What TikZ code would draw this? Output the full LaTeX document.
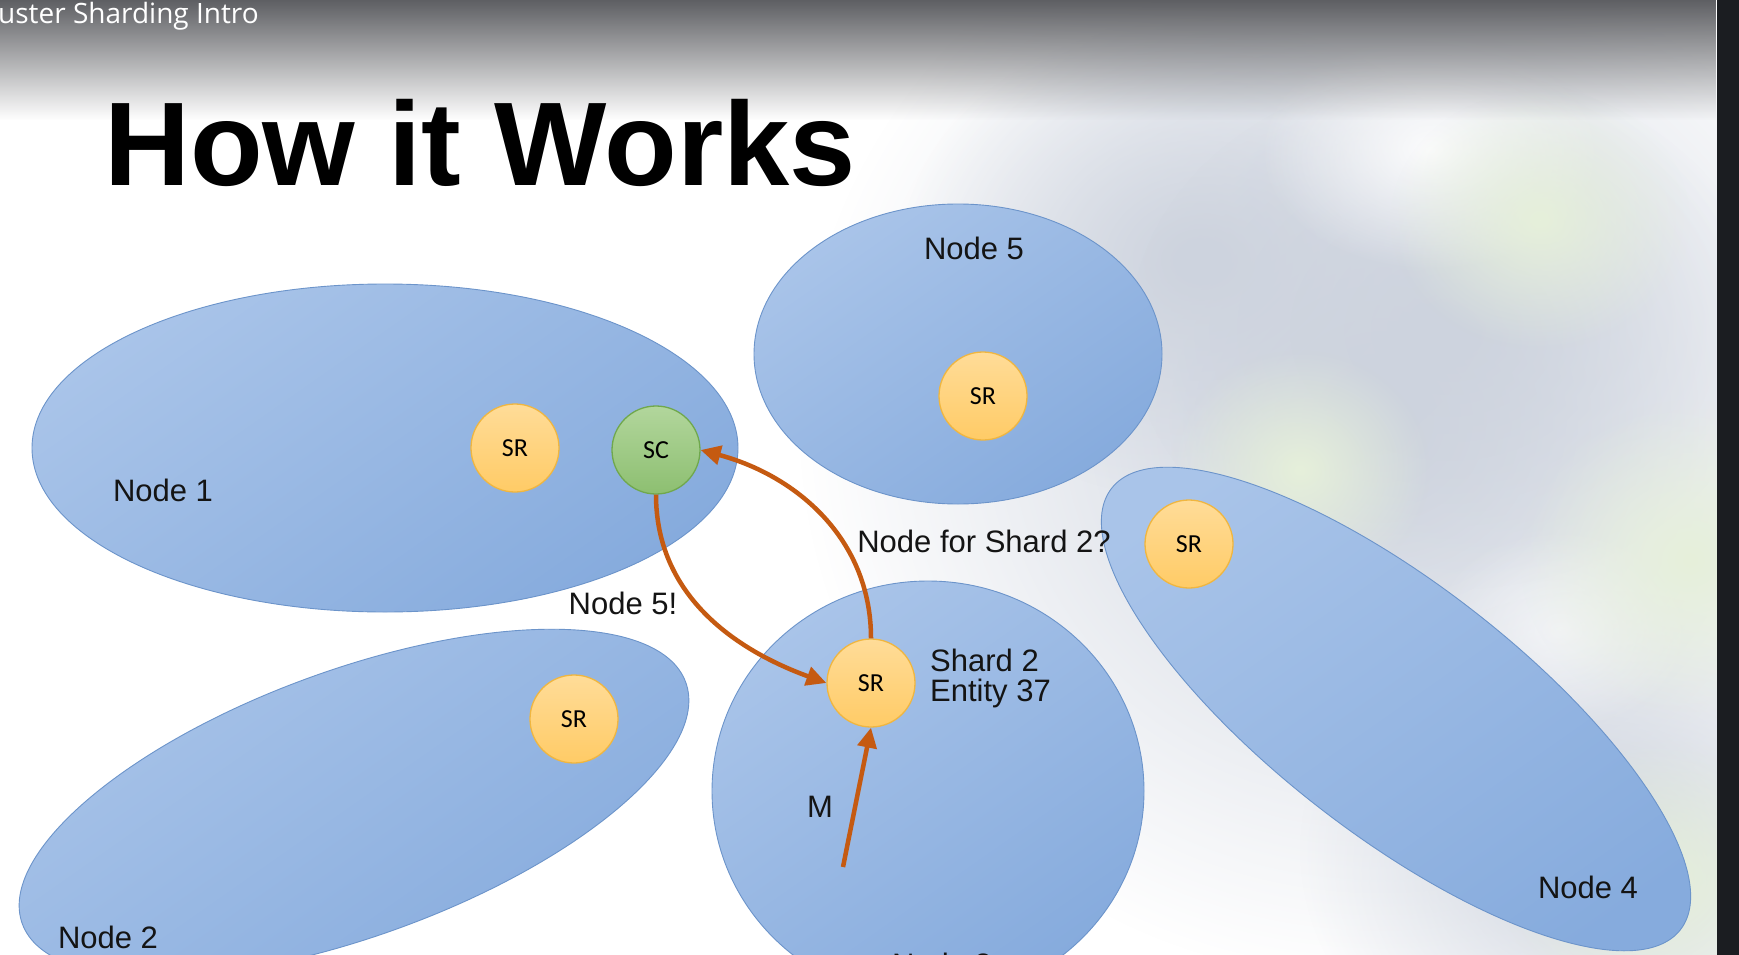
\documentclass[tikz,border=0pt]{standalone}
\usepackage{fontspec}
\usetikzlibrary{arrows.meta,fadings}
\newfontfamily\titlefont{Liberation Sans}
\newfontfamily\labelfont{Liberation Sans}
\newfontfamily\barfont{Open Sans}
\newfontfamily\srfont{Carlito}

\definecolor{ellTop}{HTML}{A9C4E9}
\definecolor{ellBot}{HTML}{86ABDD}
\definecolor{ellLine}{HTML}{6C94CA}
\definecolor{srTop}{HTML}{FFDC98}
\definecolor{srBot}{HTML}{FFCB66}
\definecolor{srLine}{HTML}{F0B640}
\definecolor{scTop}{HTML}{B2D69C}
\definecolor{scBot}{HTML}{8DBF71}
\definecolor{scLine}{HTML}{70A84C}
\definecolor{flowc}{HTML}{C55A11}
\definecolor{barTop}{HTML}{5E5F63}
\definecolor{stripc}{HTML}{1B1D21}
\definecolor{hazeGray}{HTML}{CDD3DE}
\definecolor{hazeGreen}{HTML}{E6F0DA}

\tikzfading[name=blobfade, inner color=transparent!0, outer color=transparent!100]
\tikzfading[name=barfade, top color=transparent!0, bottom color=transparent!100]

\tikzset{
  region/.style={draw=ellLine, line width=0.9pt, top color=ellTop, bottom color=ellBot, shading angle=35},
  srnode/.style={circle, minimum size=88pt, inner sep=0pt, draw=srLine, line width=1.3pt,
    top color=srTop, bottom color=srBot, font=\srfont\fontsize{26}{26}\selectfont},
  scnode/.style={srnode, draw=scLine, top color=scTop, bottom color=scBot},
  lbl/.style={anchor=base, inner sep=0pt, text=black!92, font=\labelfont\fontsize{31}{31}\selectfont},
  flow/.style={draw=flowc, line width=4.5pt, -{Triangle[length=20pt,width=19pt]}},
  haze/.style={path fading=blobfade}
}

\begin{document}
\begin{tikzpicture}[x=1pt,y=1pt]
\useasboundingbox (0,0) rectangle (1739,-955);
\clip (0,0) rectangle (1739,-955);
\fill[white] (0,0) rectangle (1739,-955);

% soft backdrop on the right
\fill[hazeGray, haze] (1380,-420) circle [x radius=580pt, y radius=560pt];
\fill[hazeGray, haze] (1200,-260) circle [x radius=300pt, y radius=240pt];
\fill[hazeGray, haze] (1450,-330) circle [x radius=320pt, y radius=260pt];
\fill[hazeGray, haze] (1600,-850) circle [x radius=300pt, y radius=260pt];
\fill[white, haze, opacity=0.9] (1430,-150) circle [x radius=170pt, y radius=120pt];
\fill[white, haze, opacity=0.6] (1560,-630) circle [x radius=130pt, y radius=100pt];
\fill[hazeGreen, haze] (1540,-220) circle [x radius=150pt, y radius=130pt];
\fill[hazeGreen, haze] (1300,-470) circle [x radius=130pt, y radius=120pt];
\fill[hazeGreen, haze] (1690,-560) circle [x radius=170pt, y radius=160pt];
\fill[hazeGreen, haze] (1660,-880) circle [x radius=160pt, y radius=140pt];

% title bar
\fill[barTop, path fading=barfade] (0,0) rectangle (1717,-120);
\node[anchor=base west, inner sep=0pt, text=white, font=\barfont\fontsize{28}{28}\selectfont]
  (bar) at (-2,-24) {uster Sharding Intro};

% dark strip at the right edge
\fill[stripc] (1717,0) rectangle (1739,-955);

% heading
\node[anchor=base west, inner sep=0pt, text=black, font=\titlefont\bfseries\fontsize{119}{119}\selectfont]
  (title) at (104,-185) {How it Works};

% cluster nodes
\path[region] (385,-448) circle [x radius=353pt, y radius=164pt];
\path[region] (958,-354) circle [x radius=204pt, y radius=150pt];
\path[region] (354,-803) circle [x radius=353pt, y radius=133pt, rotate=20];
\path[region] (928,-791) circle [x radius=216pt, y radius=210pt];
\path[region] (1396,-709) circle [x radius=360pt, y radius=125pt, rotate=-37.8];

% node labels
\node[lbl] (n1) at (163,-501) {Node 1};
\node[lbl] (n2) at (108,-948) {Node 2};
\node[lbl] (n3) at (942,-975) {Node 3};
\node[lbl] (n4) at (1588,-898) {Node 4};
\node[lbl] (n5) at (974,-259) {Node 5};

% shard regions and coordinator
\node[srnode] (sr1) at (515,-448) {SR};
\node[scnode] (sc)  at (656,-450) {SC};
\node[srnode] (sr5) at (983,-396) {SR};
\node[srnode] (sr4) at (1189,-544) {SR};
\node[srnode] (sr2) at (574,-719) {SR};
\node[srnode] (sr3) at (871,-683) {SR};

% message labels
\node[lbl] (ask) at (984,-552) {Node for Shard 2?};
\node[lbl] (reply) at (623,-614) {Node 5!};
\node[lbl, anchor=base west] (shard) at (930,-671) {Shard 2};
\node[lbl, anchor=base west] (entity) at (930,-701) {Entity 37};
\node[lbl] (msg) at (820,-817) {M};

% message flow
\coordinate (msrc) at (843,-867);
\draw[flow] (sr3.north) to[out=90, in=-15] (sc.east);
\draw[flow] (sc.south) to[out=-90, in=160] (sr3.west);
\draw[flow] (msrc) -- (sr3.south);
\end{tikzpicture}
\end{document}
